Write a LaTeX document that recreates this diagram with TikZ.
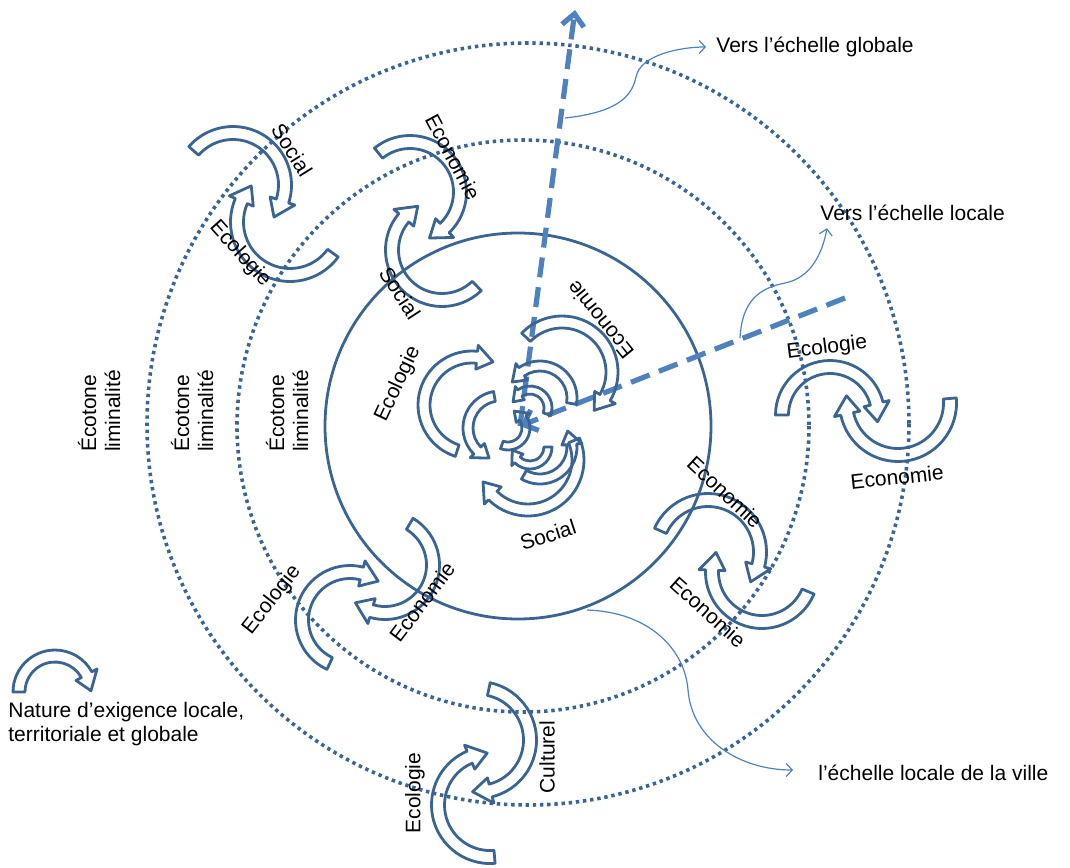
\documentclass[tikz,border=0pt]{standalone}
\usepackage{fontspec}
\setmainfont{Liberation Sans}
\usetikzlibrary{calc,arrows.meta}

\definecolor{cycblue}{RGB}{59,100,147}
\definecolor{lightblue}{RGB}{79,129,189}

\tikzset{
  cyc/.style={draw=cycblue, line width=1.4pt, line join=round},
  ring/.style={draw=cycblue, line width=1.4pt},
  dotring/.style={draw=cycblue, line width=1.8pt, dash pattern=on 1.7pt off 1.9pt},
  scalearrow/.style={draw=lightblue, line width=2.6pt, dash pattern=on 10pt off 5pt, -{Straight Barb[length=6pt,width=11pt]}},
  linkarrow/.style={draw=lightblue, line width=0.6pt, -{Straight Barb[length=3pt,width=6.5pt]}},
  lbl/.style={font=\fontsize{10.5}{12}\selectfont, inner sep=1pt}
}

% fleche courbe : centre x, centre y, rayon, angle depart, angle fin, demi-largeur
\newcommand{\cycarc}[6]{%
  \pgfmathsetmacro{\cycsgn}{(#5>#4) ? 1 : -1}
  \pgfmathsetmacro{\cycbase}{#5-\cycsgn*2.8*#6/#3*57.296}
  \pgfmathsetmacro{\cycro}{#3+#6}
  \pgfmathsetmacro{\cycri}{#3-#6}
  \pgfmathsetmacro{\cycho}{#3+2*#6}
  \pgfmathsetmacro{\cychi}{#3-2*#6}
  \draw[cyc] ($(#1,#2)+(#4:\cycro)$) arc[start angle=#4, end angle=\cycbase, radius=\cycro]
    -- ($(#1,#2)+(\cycbase:\cycho)$) -- ($(#1,#2)+(#5:#3)$) -- ($(#1,#2)+(\cycbase:\cychi)$)
    -- ($(#1,#2)+(\cycbase:\cycri)$) arc[start angle=\cycbase, end angle=#4, radius=\cycri] -- cycle;
}

\begin{document}
\begin{tikzpicture}[x=0.5pt,y=-0.5pt]
\useasboundingbox (0,0) rectangle (1070,867);

% Cercles
\draw[dotring] (528,424) circle[radius=381];
\draw[dotring] (523,426) circle[radius=286];
\draw[ring] (518,426) circle[radius=193];

% Ecotones
\node[lbl, rotate=90, align=left] (eco1) at (99,411) {Écotone\\liminalité};
\node[lbl, rotate=90, align=left] (eco2) at (192,411) {Écotone\\liminalité};
\node[lbl, rotate=90, align=left] (eco3) at (287,411) {Écotone\\liminalité};

% Fleches d'echelle
\coordinate (centre) at (520,426);
\coordinate (globtip) at (575,10);
\coordinate (loctail) at (845,298);
\draw[scalearrow] (centre) -- (globtip);
\draw[scalearrow] (loctail) -- (centre);

\node[lbl, anchor=west] (glob) at (714,47) {Vers l’échelle globale};
\node[lbl, anchor=west] (loc) at (818,213) {Vers l’échelle locale};
\node[lbl, anchor=west] (ville) at (816,773) {l’échelle locale de la ville};

\coordinate (gstart) at (565,118);
\coordinate (lstart) at (740,338);
\coordinate (vstart) at (587,610);
\draw[linkarrow] (gstart) .. controls (620,112) and (632,95) .. (636,77) .. controls (640,55) and (680,47) .. ($(glob.west)+(-8,0)$);
\draw[linkarrow] (lstart) .. controls (742,300) and (760,288) .. (785,283) .. controls (810,278) and (822,255) .. ($(loc.south west)+(9,5)$);
\draw[linkarrow] (vstart) .. controls (650,612) and (685,650) .. (688,690) .. controls (692,740) and (740,770) .. ($(ville.west)+(-23,-3)$);

% Centre
\cycarc{472}{405}{48}{108}{296}{6}
\cycarc{562}{372}{50}{224}{410}{6}
\cycarc{528}{460}{50}{337}{514}{6}
\cycarc{540}{398}{32}{10}{-150}{5}
\cycarc{500}{428}{32}{-100}{-250}{5}
\cycarc{540}{447}{32}{120}{-30}{5}
\cycarc{530}{408}{18}{20}{-160}{4}
\cycarc{508}{428}{18}{110}{-70}{4}
\cycarc{530}{447}{18}{0}{170}{4}
\node[lbl, rotate=65] (mEco) at (398,384) {Ecologie};
\node[lbl, rotate=129] (mEcon) at (600,320) {Economie};
\node[lbl, rotate=18] (mSoc) at (548,535) {Social};

% Paires
\cycarc{233}{185}{52}{221}{398}{6.5}
\cycarc{290}{222}{53}{36}{223}{6.5}
\node[lbl, rotate=-58] (aSoc) at (292,150) {Social};
\node[lbl, rotate=-48] (aEco) at (240,254) {Ecologie};

\cycarc{410}{192}{50}{231}{427}{6.5}
\cycarc{442}{250}{50}{46}{241}{6.5}
\node[lbl, rotate=-62] (bEcon) at (453,157) {Economie};
\node[lbl, rotate=-57] (bSoc) at (400,293) {Social};

\cycarc{830}{415}{48}{180}{368}{6.5}
\cycarc{898}{403}{52}{-5}{188}{6.5}
\node[lbl, rotate=7] (cEco) at (827,348) {Ecologie};
\node[lbl, rotate=6] (cEcon) at (897,477) {Economie};

\cycarc{708}{552}{52}{204}{395}{6.5}
\cycarc{762}{572}{50}{23}{203}{6.5}
\node[lbl, rotate=-43] (dEcon) at (725,492) {Economie};
\node[lbl, rotate=-42] (dEconb) at (708,612) {Economie};

\cycarc{350}{620}{48}{115}{306}{6.5}
\cycarc{385}{565}{48}{-59}{128}{6.5}
\node[lbl, rotate=52] (eEco) at (272,600) {Ecologie};
\node[lbl, rotate=53] (eEcon) at (422,602) {Economie};

\cycarc{478}{740}{52}{-78}{96}{6.5}
\cycarc{490}{805}{52}{85}{267}{6.5}
\node[lbl, rotate=90] (fEco) at (415,793) {Ecologie};
\node[lbl, rotate=90] (fCul) at (547,757) {Culturel};

% Legende
\cycarc{55}{692}{36}{180}{358}{6}
\node[lbl, anchor=north west, align=left] (legend) at (6,700) {Nature d’exigence locale,\\territoriale et globale};
\end{tikzpicture}
\end{document}
